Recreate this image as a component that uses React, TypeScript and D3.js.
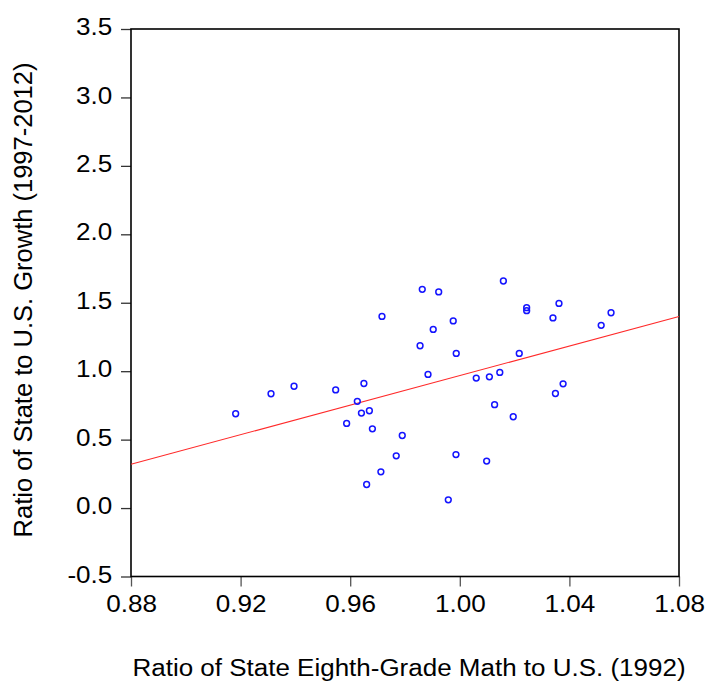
import React, { useEffect, useRef } from 'react';
import * as d3 from 'd3';

// ratio of state 8th-grade math score to U.S. (1992)
const mathRatio = [
  0.9182, 0.9311, 0.9395, 0.9547, 0.9650, 0.9626, 0.9641, 0.9670, 0.9587, 0.9681,
  0.9790, 0.9768, 0.9712, 0.9660, 0.9958, 0.9986, 1.0098, 1.0127, 1.0195, 1.0349,
  1.0377, 1.0060, 1.0108, 1.0146, 0.9884, 0.9987, 1.0217, 0.9855, 0.9903, 0.9976,
  0.9716, 0.9863, 0.9923, 1.0159, 1.0244, 1.0244, 1.0362, 1.0340, 1.0552, 1.0516,
];

// ratio of state growth to U.S. growth (1997-2012)
const growthRatio = [
  0.689, 0.835, 0.890, 0.863, 0.910, 0.780, 0.694, 0.711, 0.618, 0.579,
  0.530, 0.382, 0.265, 0.172, 0.060, 0.391, 0.343, 0.755, 0.667, 0.837,
  0.908, 0.950, 0.959, 0.991, 0.976, 1.130, 1.130, 1.186, 1.305, 1.367,
  1.400, 1.598, 1.579, 1.659, 1.464, 1.442, 1.495, 1.389, 1.427, 1.335,
];

const xTicks = [0.88, 0.92, 0.96, 1.0, 1.04, 1.08];
const yTicks = [-0.5, 0.0, 0.5, 1.0, 1.5, 2.0, 2.5, 3.0, 3.5];

// fitted regression line: growth = a + b * math
const fitIntercept = -4.432;
const fitSlope = 5.4;

const App = () => {
  const ref = useRef<SVGSVGElement>(null);

  useEffect(() => {
    const width = 706;
    const height = 681;
    const margin = { top: 29, right: 27, bottom: 104.5, left: 131 };
    const font = 'Liberation Sans, Arial, sans-serif';
    // the original graph is a bit wider than tall, so the text is stretched sideways
    const stretch = 1.11;

    const svg = d3.select(ref.current);
    svg.selectAll('*').remove();

    const x = d3.scaleLinear()
      .domain([0.88, 1.08])
      .range([margin.left, width - margin.right]);

    const y = d3.scaleLinear()
      .domain([-0.5, 3.5])
      .range([height - margin.bottom, margin.top]);

    const xAxis = g => g
      .attr('transform', `translate(0,${height - margin.bottom})`)
      .call(d3.axisBottom(x).tickValues(xTicks).tickFormat(d3.format('.2f')).tickSize(10).tickPadding(9))
      .call(g => g.select('.domain').remove())
      .call(g => g.selectAll('.tick line').attr('stroke', '#555').attr('stroke-width', 1.3))
      .call(g => g.selectAll('text')
        .attr('font-size', 23.5).attr('font-family', font).attr('fill', '#000')
        .attr('transform', `scale(${stretch},1)`));

    const yAxis = g => g
      .attr('transform', `translate(${margin.left},0)`)
      .call(d3.axisLeft(y).tickValues(yTicks).tickFormat(d => d3.format('.1f')(d).replace('−', '-')).tickSize(10).tickPadding(6.8))
      .call(g => g.select('.domain').remove())
      .call(g => g.selectAll('.tick line').attr('stroke', '#333').attr('stroke-width', 1.3))
      .call(g => g.selectAll('text')
        .attr('font-size', 23.5).attr('font-family', font).attr('fill', '#000')
        .attr('dy', '0.24em')
        .attr('transform', `scale(${stretch},1)`));

    svg.append('g').call(xAxis);
    svg.append('g').call(yAxis);

    // plot frame
    svg.append('rect')
      .attr('x', margin.left)
      .attr('y', margin.top)
      .attr('width', width - margin.left - margin.right)
      .attr('height', height - margin.top - margin.bottom)
      .attr('fill', 'none')
      .attr('stroke', '#000')
      .attr('stroke-width', 1.6);

    // regression line
    const [x0, x1] = x.domain();
    const line = d3.line<number>()
      .x(d => x(d))
      .y(d => y(fitIntercept + fitSlope * d));

    svg.append('path')
      .datum([x0, x1])
      .attr('d', line)
      .attr('fill', 'none')
      .attr('stroke', '#ff2a2a')
      .attr('stroke-width', 1.1);

    svg.append('g')
      .selectAll('circle')
      .data(mathRatio.map((m, i) => [m, growthRatio[i]]))
      .join('circle')
      .attr('cx', d => x(d[0]))
      .attr('cy', d => y(d[1]))
      .attr('r', 2.9)
      .attr('fill', 'none')
      .attr('stroke', '#1414ff')
      .attr('stroke-width', 1.5);

    svg.append('text')
      .attr('transform', `translate(409,676) scale(${stretch + 0.02},1)`)
      .attr('text-anchor', 'middle')
      .attr('font-size', 23)
      .attr('font-family', font)
      .text('Ratio of State Eighth-Grade Math to U.S. (1992)');

    svg.append('text')
      .attr('transform', 'translate(32,300) rotate(-90)')
      .attr('text-anchor', 'middle')
      .attr('font-size', 25.5)
      .attr('font-family', font)
      .text('Ratio of State to U.S. Growth (1997-2012)');
  });

  return (
    <div>
      <svg ref={ref} width={706} height={681}
        style={{ position: 'absolute', left: 0, top: 0, background: '#fff' }} />
    </div>
  );
};

export default App;
